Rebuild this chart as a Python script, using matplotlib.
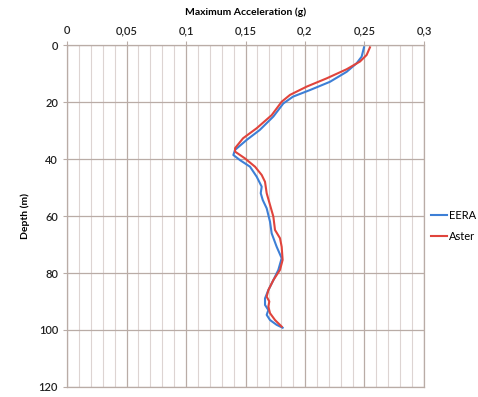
import numpy as np
import matplotlib.pyplot as plt
from matplotlib.ticker import MultipleLocator, FuncFormatter

# depth (m) and max acceleration (g)
depth_eera = [0.8, 4.1, 6.4, 9.4, 12.9, 15.8, 18.1, 20.5, 25.1, 29.8, 33.3, 36.8, 38.6,
              40.4, 42.7, 46.2, 49.7, 52.0, 54.4, 57.3, 62.0, 66.1, 70.8, 74.8, 78.9, 82.5,
              86.0, 88.9, 91.2, 93.0, 94.7, 96.5, 98.2, 99.2]
acc_eera = [0.2496, 0.2476, 0.2434, 0.235, 0.221, 0.2042, 0.190, 0.1818, 0.1734, 0.162,
            0.151, 0.1412, 0.1398, 0.1454, 0.1538, 0.1594, 0.1636, 0.1628, 0.1645, 0.1678,
            0.1706, 0.172, 0.1762, 0.1804, 0.1776, 0.1734, 0.1692, 0.1664, 0.1664, 0.1692,
            0.1678, 0.1706, 0.1762, 0.1812]

depth_aster = [0.8, 3.5, 5.8, 8.5, 11.7, 14.6, 17.5, 19.9, 24.6, 29.2, 32.7, 36.2, 37.4,
               39.8, 42.7, 45.6, 48.0, 52.0, 56.1, 60.2, 64.9, 67.8, 70.8, 75.4, 78.9,
               82.5, 86.0, 88.3, 90.0, 91.8, 94.1, 96.5, 98.8]
acc_aster = [0.2546, 0.2518, 0.2462, 0.235, 0.2182, 0.2014, 0.1874, 0.1804, 0.172, 0.1594,
             0.148, 0.1412, 0.1412, 0.1496, 0.158, 0.1636, 0.1664, 0.1678, 0.1706, 0.1734,
             0.1748, 0.179, 0.1804, 0.1812, 0.179, 0.1734, 0.1692, 0.1678, 0.170, 0.1692,
             0.1706, 0.1748, 0.1804]

labels = ['EERA', 'Aster']

plt.rcParams['font.family'] = ['Lato', 'DejaVu Sans']

fig = plt.figure(figsize=(4.78, 3.97), dpi=100)
ax = fig.add_axes([0.1402, 0.0252, 0.7468, 0.8614])

ax.plot(acc_eera, depth_eera, color='#3d7fd6', lw=1.5, label=labels[0])
ax.plot(acc_aster, depth_aster, color='#e0443c', lw=1.5, label=labels[1])

ax.set_xlim(0, 0.3)
ax.set_ylim(120, 0)
ax.xaxis.set_major_locator(MultipleLocator(0.05))
ax.xaxis.set_minor_locator(MultipleLocator(0.01))
ax.yaxis.set_major_locator(MultipleLocator(20))
ax.xaxis.set_major_formatter(FuncFormatter(lambda v, p: ('%g' % round(v, 2)).replace('.', ',')))
ax.xaxis.tick_top()
ax.xaxis.set_label_position('top')

ax.grid(which='major', color='#b9aca6', lw=0.9)
ax.grid(which='minor', axis='x', color='#ddd4d2', lw=0.8)
ax.set_axisbelow(True)
for s in ax.spines.values():
    s.set_color('#b9aca6')
    s.set_linewidth(0.9)
ax.tick_params(which='both', colors='#b9aca6', labelcolor='#222222', labelsize=8, length=3)
ax.tick_params(which='minor', length=0)
for t in ax.get_xticklabels() + ax.get_yticklabels():
    t.set_fontweight('semibold')

ax.set_xlabel('Maximum Acceleration (g)', fontsize=7.5, fontweight='bold', labelpad=7)
ax.set_ylabel('Depth (m)', fontsize=7.5, fontweight='bold', labelpad=6)

fig.legend(loc='center left', bbox_to_anchor=(0.902, 0.43), frameon=False,
           fontsize=8, handlelength=1.4, handletextpad=0.2, labelspacing=0.9,
           borderaxespad=0, borderpad=0)

fig.savefig('out.png', dpi=100)
